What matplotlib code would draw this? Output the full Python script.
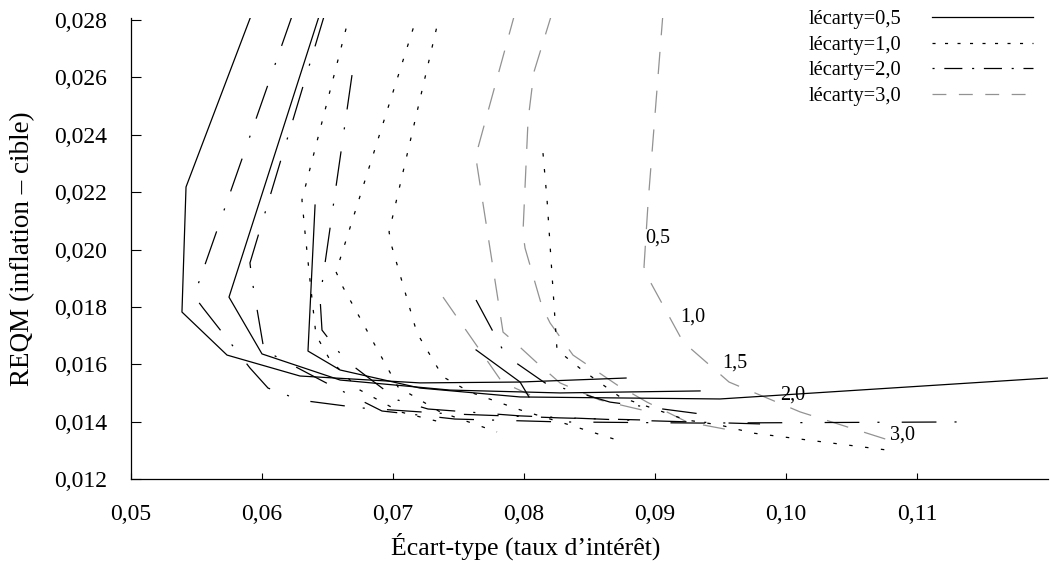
import matplotlib
matplotlib.use('Agg')
import matplotlib.pyplot as plt
from matplotlib.lines import Line2D
from matplotlib.ticker import FuncFormatter

plt.rcParams['font.family'] = ['Liberation Serif', 'DejaVu Serif']
plt.rcParams['lines.scale_dashes'] = False

# lécarty=0,5 (solid)
solid_x = [
    [0.05924, 0.05420, 0.05389, 0.05733, 0.06290, 0.07206, 0.07970, 0.08779],
    [0.06443, 0.05748, 0.06000, 0.06596, 0.07435, 0.08275, 0.09344],
    [0.06405, 0.06351, 0.06596, 0.07206, 0.07970, 0.09496, 0.12000],
    [0.07634, 0.07970, 0.08038],
]
solid_y = [
    [0.02824, 0.02218, 0.01782, 0.01632, 0.01559, 0.01535, 0.01538, 0.01552],
    [0.02824, 0.01834, 0.01636, 0.01545, 0.01510, 0.01500, 0.01507],
    [0.02155, 0.01646, 0.01580, 0.01517, 0.01486, 0.01479, 0.01552],
    [0.01650, 0.01538, 0.01486],
]

# lécarty=1,0 (dotted)
dot_x = [
    [0.06672, 0.06305, 0.06328, 0.06366, 0.06412, 0.06519, 0.06748, 0.07054, 0.07359],
    [0.07191, 0.06565, 0.06618, 0.07038, 0.07359, 0.07794],
    [0.07359, 0.06970, 0.06992, 0.07183, 0.07382, 0.07588, 0.07970, 0.08351, 0.08710],
    [0.08145, 0.08176, 0.08252, 0.08443, 0.08733, 0.09237, 0.09496, 0.09748, 0.10771],
]
dot_y = [
    [0.02824, 0.02173, 0.02061, 0.01894, 0.01702, 0.01615, 0.01510, 0.01434, 0.01399],
    [0.02824, 0.01922, 0.01869, 0.01521, 0.01434, 0.01364],
    [0.02824, 0.02061, 0.02009, 0.01709, 0.01556, 0.01503, 0.01441, 0.01388, 0.01336],
    [0.02336, 0.02173, 0.01650, 0.01580, 0.01486, 0.01406, 0.01388, 0.01360, 0.01301],
]

# lécarty=2,0 (dash-dot)
dd_x = [
    [0.06237, 0.05481, 0.05550, 0.05832, 0.05908, 0.06046, 0.06290, 0.06748, 0.07435, 0.08275, 0.08886],
    [0.06481, 0.05908, 0.05924, 0.06015, 0.06115, 0.06519, 0.06916, 0.07473, 0.08275, 0.09344, 0.11382],
    [0.06687, 0.06443, 0.06458, 0.06634, 0.07038, 0.07267, 0.07970, 0.08733, 0.09802],
    [0.07634, 0.07863, 0.08160, 0.08657, 0.09344],
]
dd_y = [
    [0.02824, 0.01838, 0.01796, 0.01632, 0.01587, 0.01517, 0.01475, 0.01448, 0.01427, 0.01413, 0.01406],
    [0.02824, 0.01953, 0.01894, 0.01650, 0.01625, 0.01528, 0.01437, 0.01409, 0.01399, 0.01395, 0.01399],
    [0.02608, 0.01831, 0.01719, 0.01615, 0.01475, 0.01444, 0.01420, 0.01406, 0.01392],
    [0.01824, 0.01629, 0.01535, 0.01468, 0.01427],
]

# lécarty=3,0 (grey long dash)
grey_x = [
    [0.07382, 0.07832, 0.08046],
    [0.07931, 0.07634, 0.07641, 0.07840, 0.07909, 0.08092, 0.08275, 0.08580, 0.08962],
    [0.08214, 0.08076, 0.08031, 0.07992, 0.08008, 0.08138, 0.08199, 0.08374, 0.08710, 0.08939, 0.09244, 0.09649],
    [0.09061, 0.08947, 0.08916, 0.08939, 0.09214, 0.09565, 0.10107, 0.10809],
]
grey_y = [
    [0.01834, 0.01538, 0.01493],
    [0.02824, 0.02330, 0.02295, 0.01712, 0.01685, 0.01608, 0.01535, 0.01475, 0.01434],
    [0.02824, 0.02619, 0.02451, 0.02058, 0.02005, 0.01800, 0.01744, 0.01632, 0.01528, 0.01468, 0.01399, 0.01364],
    [0.02824, 0.02162, 0.01939, 0.01908, 0.01678, 0.01538, 0.01434, 0.01332],
]

param_labels = ['0,5', '1,0', '1,5', '2,0', '3,0']
param_x = [0.0902, 0.0929, 0.0961, 0.1005, 0.1089]
param_y = [0.0204, 0.01765, 0.01604, 0.01493, 0.01353]

legend_labels = ['lécarty=0,5', 'lécarty=1,0', 'lécarty=2,0', 'lécarty=3,0']

grey = '#929292'
st_solid = dict(color='black', lw=0.9, linestyle='-')
st_dot = dict(color='black', lw=0.9, linestyle=(0, (2.5, 9)))
st_dd = dict(color='black', lw=0.9, linestyle=(0, (25, 13, 1.5, 16)))
st_grey = dict(color=grey, lw=0.9, linestyle=(0, (16, 12)))

fig = plt.figure(figsize=(10.5, 5.63), dpi=100)
ax = fig.add_axes([131/1050, 1 - 479/563, 917/1050, 461/563])

for xs, ys in zip(grey_x, grey_y):
    ax.plot(xs, ys, **st_grey)
for xs, ys in zip(dot_x, dot_y):
    ax.plot(xs, ys, **st_dot)
for xs, ys in zip(dd_x, dd_y):
    ax.plot(xs, ys, **st_dd)
for xs, ys in zip(solid_x, solid_y):
    ax.plot(xs, ys, **st_solid)

for lab, x, y in zip(param_labels, param_x, param_y):
    ax.text(x, y, lab, fontsize=14.5, ha='center', va='center')

ax.set_xlim(0.05, 0.12)
ax.set_ylim(0.012, 0.02807)
ax.set_xticks([0.05, 0.06, 0.07, 0.08, 0.09, 0.10, 0.11])
ax.set_yticks([0.012, 0.014, 0.016, 0.018, 0.020, 0.022, 0.024, 0.026, 0.028])
ax.xaxis.set_major_formatter(FuncFormatter(lambda v, p: '{:.2f}'.format(v).replace('.', ',')))
ax.yaxis.set_major_formatter(FuncFormatter(lambda v, p: '{:.3f}'.format(v).replace('.', ',')))
ax.tick_params(axis='x', direction='in', length=4.5, width=0.8, pad=18, labelsize=17)
ax.tick_params(axis='y', direction='in', length=7.2, width=0.8, pad=17, labelsize=17)
ax.spines['top'].set_visible(False)
ax.spines['right'].set_visible(False)
for s in ('left', 'bottom'):
    ax.spines[s].set_linewidth(0.9)

ax.set_xlabel('Écart-type (taux d’intérêt)', fontsize=18.5)
ax.xaxis.set_label_coords((526 - 131) / 917, -(533 - 479) / 461)
ax.set_ylabel('REQM (inflation – cible)', fontsize=19.5)
ax.yaxis.set_label_coords(-(131 - 35) / 917, 0.5)

handles = [
    Line2D([], [], color='black', lw=0.9),
    Line2D([], [], color='black', lw=0.9, linestyle=(0, (2.2, 6.8))),
    Line2D([], [], color='black', lw=0.9, linestyle=(0, (1.5, 7, 13, 7))),
    Line2D([], [], color=grey, lw=0.9, linestyle=(0, (10, 9))),
]
ax.legend(handles, legend_labels, loc='upper right', bbox_to_anchor=(1033/1050, 1 - 10/563),
          bbox_transform=fig.transFigure, frameon=False, markerfirst=False,
          fontsize=14.8, handlelength=4.9, handletextpad=1.5, labelspacing=0.3,
          borderpad=0, borderaxespad=0)

fig.savefig('out.png', dpi=100)
